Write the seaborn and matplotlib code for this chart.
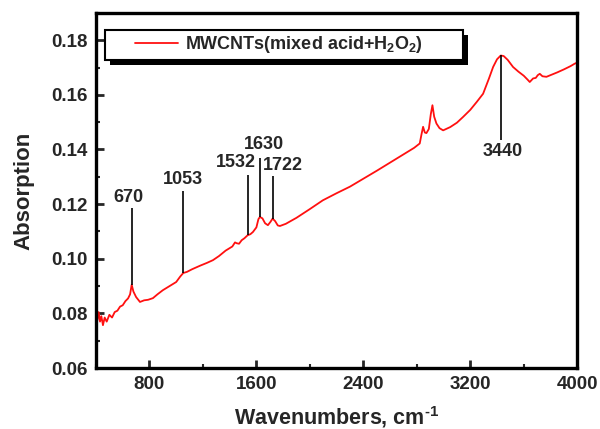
import matplotlib
matplotlib.use("Agg")
import matplotlib.pyplot as plt
from matplotlib.ticker import MultipleLocator
from matplotlib.patches import Rectangle
from matplotlib.legend_handler import HandlerLine2D
import seaborn as sns
import pandas as pd

wavenumber = [400, 410, 420, 430, 440, 452, 465, 480, 500, 520, 540, 560, 580, 600, 620, 640, 655, 667,
              680, 700, 729, 760, 790, 826, 860, 900, 950, 1000, 1030, 1053, 1080, 1120, 1180, 1230, 1275,
              1320, 1370, 1420, 1440, 1452, 1470, 1490, 1510, 1534, 1555, 1574, 1600, 1615, 1626, 1645,
              1665, 1686, 1705, 1721, 1740, 1760, 1776, 1820, 1900, 2000, 2097, 2200, 2300, 2400, 2500,
              2600, 2700, 2780, 2822, 2835, 2847, 2860, 2872, 2890, 2905, 2917, 2930, 2947, 2970, 2997,
              3050, 3100, 3146, 3200, 3250, 3296, 3340, 3371, 3400, 3428, 3450, 3480, 3520, 3560, 3600,
              3630, 3645, 3670, 3690, 3705, 3720, 3740, 3770, 3800, 3850, 3900, 3950, 3981, 4000]
absorption = [0.0790, 0.0775, 0.0805, 0.0770, 0.0790, 0.0757, 0.0785, 0.0770, 0.0795, 0.0785, 0.0805,
              0.0810, 0.0825, 0.0830, 0.0845, 0.0855, 0.0870, 0.0905, 0.0880, 0.0860, 0.0842, 0.0848,
              0.0850, 0.0856, 0.0870, 0.0885, 0.0900, 0.0915, 0.0935, 0.0948, 0.0952, 0.0962, 0.0975,
              0.0985, 0.0995, 0.1010, 0.1030, 0.1045, 0.1060, 0.1057, 0.1055, 0.1068, 0.1075, 0.1086,
              0.1090, 0.1098, 0.1115, 0.1145, 0.1153, 0.1148, 0.1130, 0.1123, 0.1135, 0.1147, 0.1138,
              0.1122, 0.1120, 0.1128, 0.1150, 0.1182, 0.1214, 0.1240, 0.1264, 0.1293, 0.1322, 0.1352,
              0.1382, 0.1406, 0.1422, 0.1455, 0.1483, 0.1462, 0.1460, 0.1475, 0.1530, 0.1562, 0.1520,
              0.1495, 0.1478, 0.1470, 0.1482, 0.1498, 0.1519, 0.1545, 0.1575, 0.1604, 0.1660, 0.1702,
              0.1730, 0.1744, 0.1742, 0.1728, 0.1702, 0.1685, 0.1670, 0.1655, 0.1647, 0.1660, 0.1662,
              0.1672, 0.1677, 0.1668, 0.1666, 0.1672, 0.1682, 0.1693, 0.1705, 0.1714, 0.1718]

peak_labels = ["670", "1053", "1532", "1630", "1722", "3440"]
peak_x = [667, 1053, 1534, 1626, 1721, 3428]
peak_base = [0.0905, 0.0948, 0.1086, 0.1153, 0.1147, 0.1744]
peak_line_end = [0.1185, 0.1247, 0.1306, 0.1370, 0.1302, 0.1434]
label_x = [640, 1053, 1450, 1655, 1800, 3440]
label_y = [0.1226, 0.1291, 0.1351, 0.1419, 0.1342, 0.1394]

x_ticks = [800, 1600, 2400, 3200, 4000]
y_ticks = [0.06, 0.08, 0.10, 0.12, 0.14, 0.16, 0.18]

sns.set_style("white")
plt.rcParams["font.family"] = ["Liberation Sans", "DejaVu Sans"]
plt.rcParams["font.weight"] = "bold"
plt.rcParams["mathtext.fontset"] = "custom"
plt.rcParams["mathtext.rm"] = "Liberation Sans:bold"
plt.rcParams["mathtext.bf"] = "Liberation Sans:bold"
plt.rcParams["mathtext.it"] = "Liberation Sans:bold"
plt.rcParams["mathtext.default"] = "bf"


class OffsetLineHandler(HandlerLine2D):
    def get_xdata(self, legend, xdescent, ydescent, width, height, fontsize):
        x0 = -xdescent + width * 0.37
        x1 = -xdescent + width
        return [x0, x1], [(x0 + x1) / 2]


df = pd.DataFrame({"Wavenumber": wavenumber, "Absorption": absorption})

fig = plt.figure(figsize=(6.0, 4.29), dpi=100)
ax = fig.add_axes([0.16, 0.142, 0.802, 0.828])
sns.lineplot(data=df, x="Wavenumber", y="Absorption", ax=ax, color="#ff1010", linewidth=1.3,
             label=r"MWCNTs(mixed acid+H$_2$O$_2$)")

ax.vlines(peak_x, peak_base, peak_line_end, color="black", linewidth=1.2)
for lab, lx, ly in zip(peak_labels, label_x, label_y):
    ax.text(lx, ly, lab, ha="center", va="center", fontsize=13, fontweight="bold")

ax.set_xlim(400, 4000)
ax.set_ylim(0.06, 0.19)
ax.set_xticks(x_ticks)
ax.set_yticks(y_ticks)
ax.set_yticklabels([f"{v:.2f}" for v in y_ticks])
ax.xaxis.set_minor_locator(MultipleLocator(400))
ax.yaxis.set_minor_locator(MultipleLocator(0.01))
ax.tick_params(axis="both", which="major", direction="in", length=6, width=2, labelsize=13.5,
               top=False, right=False, bottom=True, left=True, pad=6)
ax.tick_params(axis="both", which="minor", direction="in", length=3, width=1.5,
               top=False, right=False, bottom=True, left=True)
for lbl in ax.get_xticklabels() + ax.get_yticklabels():
    lbl.set_fontweight("bold")
for sp in ax.spines.values():
    sp.set_linewidth(2.4)
    sp.set_color("black")

ax.set_xlabel("Wavenumbers, cm$^{\u2010 1}$", fontsize=15.5, fontweight="bold", labelpad=8)
ax.set_ylabel("Absorption", fontsize=16, fontweight="bold", labelpad=12)

handles, labels = ax.get_legend_handles_labels()
leg = ax.legend(handles, labels, loc="upper left", bbox_to_anchor=(0.019, 0.953, 0.744, 0.0),
                mode="expand", borderaxespad=0, fancybox=False, framealpha=1, edgecolor="black",
                handlelength=3.8, handletextpad=0.4, borderpad=0.25,
                handler_map={handles[0]: OffsetLineHandler()},
                prop={"weight": "bold", "size": 13})
leg.get_frame().set_linewidth(1.5)
leg.set_zorder(10)

fig.canvas.draw()
bb = leg.get_window_extent().transformed(fig.transFigure.inverted())
ox, oy = 5 / 600, -5 / 429
shadow = Rectangle((bb.x0 + ox, bb.y0 + oy), bb.width, bb.height, transform=fig.transFigure,
                   facecolor="black", edgecolor="none", zorder=9)
ax.add_artist(shadow)
shadow.set_clip_on(False)

fig.savefig("out.png", dpi=100)
